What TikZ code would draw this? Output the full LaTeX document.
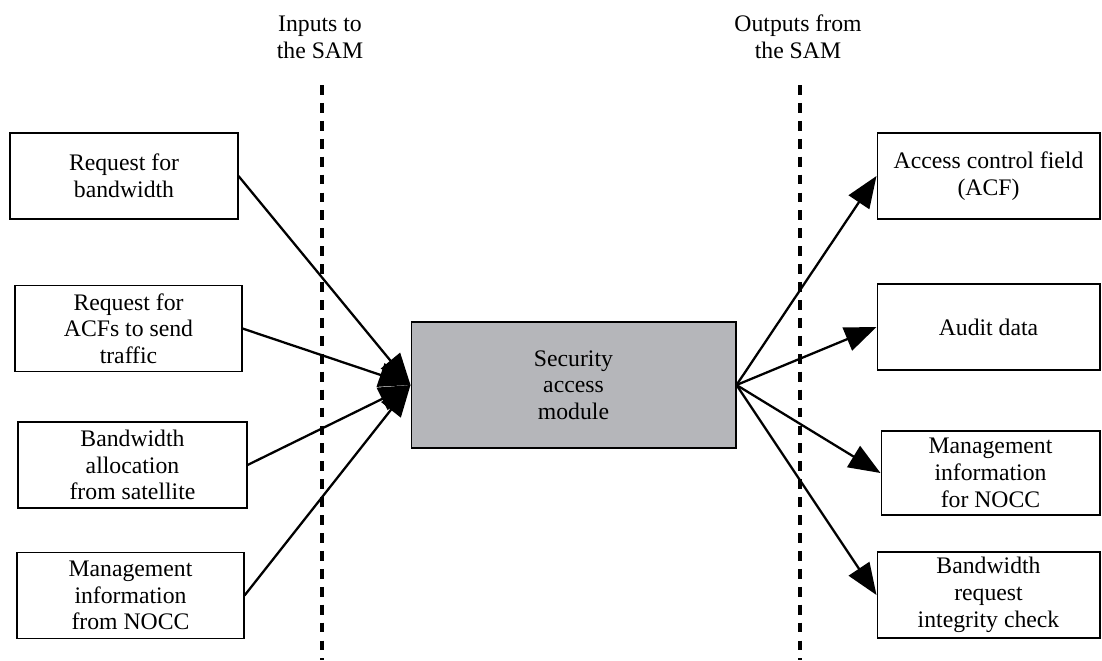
\documentclass[tikz,border=0pt]{standalone}
\usepackage{fontspec}
\setmainfont{Liberation Serif}
\usetikzlibrary{arrows.meta}

\definecolor{samgray}{RGB}{181,182,186}

\tikzset{
  txt/.style={align=center, font=\fontsize{13.5}{15.2}\selectfont},
  inbox/.style={txt, draw, line width=0.6pt, inner sep=2pt,
    minimum width=4.56cm, minimum height=1.72cm},
  outbox/.style={inbox, minimum width=4.46cm},
  flow/.style={line width=1.3pt, -{Triangle[length=18pt,width=14pt]}},
  border/.style={line width=2pt, dash pattern=on 5.6pt off 4.6pt}
}

\begin{document}
\begin{tikzpicture}[x=0.02cm, y=-0.02cm]
  \useasboundingbox (0,0) rectangle (1102,660);

  % Headings
  \node[txt] (intitle) at (320,37) {Inputs to\\the SAM};
  \node[txt] (outtitle) at (798,37) {Outputs from\\the SAM};

  % Dashed boundaries
  \coordinate (intop) at (322,85);
  \coordinate (inbot) at (322,660);
  \coordinate (outtop) at (800,85);
  \coordinate (outbot) at (800,660);
  \draw[border] (intop) -- (inbot);
  \draw[border] (outtop) -- (outbot);

  % The module
  \node[txt, draw, line width=0.6pt, fill=samgray, minimum width=6.5cm,
    minimum height=2.52cm] (sam) at (573.5,385) {Security\\access\\module};

  % Inputs
  \node[inbox] (reqbw) at (124,176) {Request for\\bandwidth};
  \node[inbox, minimum width=4.54cm] (reqacf) at (128.5,328.5) {Request for\\ACFs to send\\traffic};
  \node[inbox, minimum width=4.58cm] (bwalloc) at (132.5,465) {Bandwidth\\allocation\\from satellite};
  \node[inbox, minimum width=4.54cm] (mgmtin) at (130.5,595.5) {Management\\information\\from NOCC};

  % Outputs
  \node[outbox] (acf) at (988.5,176) {Access control field\\(ACF)};
  \node[outbox] (audit) at (988.5,327) {Audit data};
  \node[outbox, minimum width=4.38cm, minimum height=1.68cm] (mgmtout) at (990.5,473) {Management\\information\\for NOCC};
  \node[outbox] (bwcheck) at (988.5,595) {Bandwidth\\request\\integrity check};

  % Arrows in and out
  \foreach \n in {reqbw,reqacf,bwalloc,mgmtin}
    \draw[flow] (\n.east) -- (sam.west);
  \foreach \n in {acf,audit,mgmtout,bwcheck}
    \draw[flow] (sam.east) -- (\n.west);
\end{tikzpicture}
\end{document}
